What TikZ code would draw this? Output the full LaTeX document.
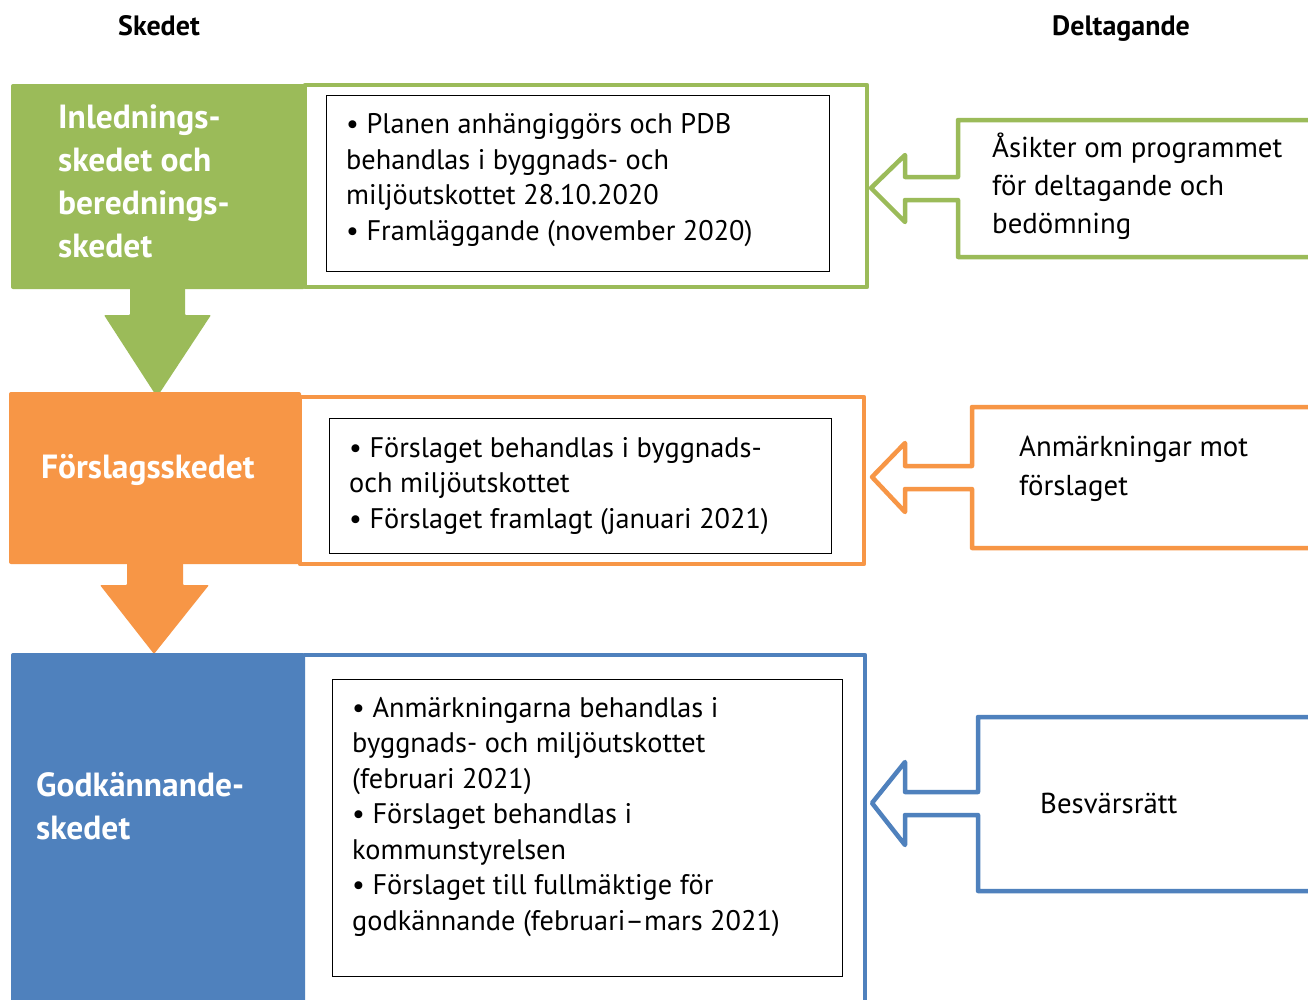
\documentclass[tikz,border=0pt]{standalone}
\usepackage{fontspec}
\setmainfont{PT Sans}
\definecolor{cgreen}{HTML}{9BBB59}
\definecolor{corange}{HTML}{F79646}
\definecolor{cblue}{HTML}{4F81BD}
\tikzset{
  frame/.style={line width=4.5pt, line join=round},
  inner/.style={draw=black, line width=1pt},
  body/.style={inner sep=0pt, anchor=west, align=left, font=\fontsize{28.3}{35.5}\selectfont},
  head/.style={inner sep=0pt, anchor=west, align=left, text=white, font=\fontsize{33.5}{43}\selectfont\bfseries},
  side/.style={inner sep=0pt, anchor=west, align=left, font=\fontsize{28.8}{38}\selectfont},
  title/.style={inner sep=0pt, anchor=base, font=\fontsize{28}{32}\selectfont\bfseries},
  callout/.style={line width=4.5pt, line join=round, fill=white},
}
\begin{document}
\begin{tikzpicture}[x=1pt,y=-1pt]
\useasboundingbox (0,0) rectangle (1308,999);
\clip (0,0) rectangle (1308,999);
\fill[white] (0,0) rectangle (1308,999);

% headers
\node[title] (tskedet) at (159,35) {Skedet};
\node[title] (tdelt) at (1121,35) {Deltagande};

% ---------- green row ----------
\draw[frame, draw=cgreen] (305,85) rectangle (867,287);
\fill[cgreen, rounded corners=2pt] (11,84) rectangle (305,289);
\draw[inner] (326,95) rectangle (829,271);
\fill[cgreen, rounded corners=1pt] (130,286) -- (185,286) -- (185,315) -- (211,315) -- (157,397) -- (104,315) -- (130,315) -- cycle;
\node[head] (h1) at (58,181) {Inlednings-\\skedet och\\berednings-\\skedet};
\node[body] (b1) at (346,180) {• Planen anhängiggörs och PDB\\behandlas i byggnads- och\\miljöutskottet 28.10.2020\\• Framläggande (november 2020)};
\draw[callout, draw=cgreen] (1320,120) -- (958,120) -- (958,177) -- (905,177) -- (905,155) -- (871,188) -- (905,222) -- (905,200) -- (958,200) -- (958,257) -- (1320,257);
\node[side] (s1) at (992,186) {Åsikter om programmet\\för deltagande och\\bedömning};

% ---------- orange row ----------
\draw[frame, draw=corange] (300,397) rectangle (864,564);
\fill[corange, rounded corners=2pt] (9,392) rectangle (301,564);
\draw[inner] (329,418) rectangle (831,553);
\fill[corange, rounded corners=1pt] (127,562) -- (183,562) -- (183,585) -- (209,585) -- (154,654) -- (100,585) -- (127,585) -- cycle;
\node[head] (h2) at (41,470) {Förslagsskedet};
\node[body] (b2) at (349,486) {• Förslaget behandlas i byggnads-\\och miljöutskottet\\• Förslaget framlagt (januari 2021)};
\draw[callout, draw=corange] (1320,407) -- (972,407) -- (972,466) -- (905,466) -- (905,443) -- (872,477) -- (905,512) -- (905,489) -- (972,489) -- (972,548) -- (1320,548);
\node[side, font=\fontsize{28.8}{39}\selectfont] (s2) at (1019,469) {Anmärkningar mot\\förslaget};

% ---------- blue row ----------
\draw[frame, draw=cblue] (304,655) -- (865,655) -- (865,1010);
\fill[cblue, rounded corners=2pt] (11,653) rectangle (305,1010);
\draw[inner] (332,679) rectangle (842,976);
\node[head] (h3) at (36,806) {Godkännande-\\skedet};
\node[body] (b3) at (352,817) {• Anmärkningarna behandlas i\\byggnads- och miljöutskottet\\(februari 2021)\\• Förslaget behandlas i\\kommunstyrelsen\\• Förslaget till fullmäktige för\\godkännande (februari–mars 2021)};
\draw[callout, draw=cblue] (1320,717) -- (978,717) -- (978,792) -- (905,792) -- (905,762) -- (872,803) -- (905,845) -- (905,815) -- (978,815) -- (978,891) -- (1320,891);
\node[side] (s3) at (1040,803) {Besvärsrätt};
\end{tikzpicture}
\end{document}
